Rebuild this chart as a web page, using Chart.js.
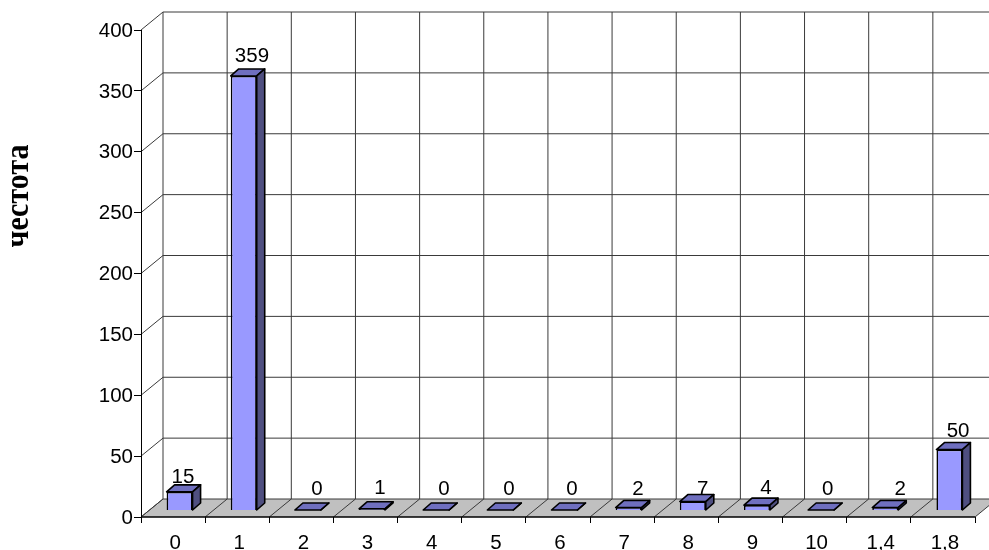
<!DOCTYPE html>
<html>
<head>
<meta charset="utf-8">
<title>частота</title>
<script src="https://cdn.jsdelivr.net/npm/chart.js@4"></script>
<style>
  html, body { margin: 0; padding: 0; background: #fff; }
  canvas { display: block; }
</style>
</head>
<body>
<canvas id="myChart" width="989" height="550"></canvas>
<script>
const categories = ["0", "1", "2", "3", "4", "5", "6", "7", "8", "9", "10", "1,4", "1,8"];
const frequency = [15, 359, 0, 1, 0, 0, 0, 2, 7, 4, 0, 2, 50];
const axisTitle = "честота";

const lineColor = "#3a3a3a";
const labelFont = '20.5px "Liberation Sans", Arial, sans-serif';

// depth of the box: back wall offset and bar offset, in px
const wallDX = 22;
const wallDY = -18;
const barDX = 8;
const barDY = -7;
const barShift = 6.5;

// value labels do not sit evenly above the bars
const labelNudgeX = [3.4, 8.2, 9, 8, 7.8, 8.6, 7.5, 9.3, 10, 9, 6.7, 15, 8.7];
const labelGap = [9, 14, 15, 15, 15, 15, 15, 13, 7, 11, 15, 13, 13];

const box3d = {
  id: "box3d",
  beforeDraw(chart) {
    const ctx = chart.ctx;
    const area = chart.chartArea;
    const y = chart.scales.y;
    const rightEdge = chart.width;
    const back = y.getPixelForValue(0) + wallDY;
    ctx.save();

    // floor
    ctx.fillStyle = "#c0c0c0";
    ctx.beginPath();
    ctx.moveTo(area.left, area.bottom);
    ctx.lineTo(area.right, area.bottom);
    ctx.lineTo(area.right + wallDX, back);
    ctx.lineTo(area.left + wallDX, back);
    ctx.closePath();
    ctx.fill();

    ctx.strokeStyle = lineColor;
    ctx.lineWidth = 1;

    // horizontal lines on the back wall plus the diagonal on the side wall
    y.ticks.forEach((t) => {
      const py = y.getPixelForValue(t.value);
      ctx.beginPath();
      ctx.moveTo(area.left, py);
      ctx.lineTo(area.left + wallDX, py + wallDY);
      ctx.lineTo(rightEdge, py + wallDY);
      ctx.stroke();
    });

    // vertical lines on the back wall, dividers on the floor
    const top = y.getPixelForValue(400) + wallDY;
    for (let i = 0; i <= categories.length; i++) {
      const px = area.left + (i * (area.right - area.left)) / categories.length;
      ctx.beginPath();
      ctx.moveTo(px, area.bottom);
      ctx.lineTo(px + wallDX, back);
      ctx.lineTo(px + wallDX, top);
      ctx.stroke();
    }

    // front edge of the floor
    ctx.strokeStyle = "#000";
    ctx.lineWidth = 1.3;
    ctx.beginPath();
    ctx.moveTo(area.left, area.bottom);
    ctx.lineTo(area.right, area.bottom);
    ctx.stroke();

    // rotated axis title
    ctx.translate(19, 196);
    ctx.rotate(-Math.PI / 2);
    ctx.scale(1, 1.1);
    ctx.fillStyle = "#000";
    ctx.font = 'bold 30px "Liberation Serif", "Times New Roman", serif';
    ctx.textAlign = "center";
    ctx.textBaseline = "middle";
    ctx.fillText(axisTitle, 0, 0);
    ctx.restore();
  },
  beforeDatasetDraw(chart) {
    chart.ctx.save();
    chart.ctx.translate(barShift, 0);
  },
  afterDatasetDraw(chart, args) {
    const ctx = chart.ctx;
    ctx.strokeStyle = "#000";
    ctx.lineWidth = 1.6;
    ctx.lineJoin = "round";
    args.meta.data.forEach((bar, i) => {
      const l = bar.x - bar.width / 2;
      const r = bar.x + bar.width / 2;

      // top face
      ctx.fillStyle = "#6f6fbf";
      ctx.beginPath();
      ctx.moveTo(l, bar.y);
      ctx.lineTo(l + barDX, bar.y + barDY);
      ctx.lineTo(r + barDX, bar.y + barDY);
      ctx.lineTo(r, bar.y);
      ctx.closePath();
      ctx.fill();
      ctx.stroke();

      // side face
      ctx.fillStyle = "#4f4f80";
      ctx.beginPath();
      ctx.moveTo(r, bar.y);
      ctx.lineTo(r + barDX, bar.y + barDY);
      ctx.lineTo(r + barDX, bar.base + barDY);
      ctx.lineTo(r, bar.base);
      ctx.closePath();
      ctx.fill();
      ctx.stroke();

      // value label
      ctx.fillStyle = "#000";
      ctx.font = labelFont;
      ctx.textAlign = "center";
      ctx.textBaseline = "alphabetic";
      ctx.fillText(frequency[i], bar.x + labelNudgeX[i], bar.y - labelGap[i]);
    });
    ctx.restore();
  },
};

new Chart(document.getElementById("myChart"), {
  type: "bar",
  data: {
    labels: categories,
    datasets: [
      {
        data: frequency,
        yAxisID: "yBar",
        backgroundColor: "#9999ff",
        borderColor: "#000",
        borderWidth: 1.6,
        barPercentage: 0.405,
        categoryPercentage: 1,
        clip: false,
      },
    ],
  },
  options: {
    responsive: false,
    animation: false,
    layout: { padding: { top: 30, right: 14 } },
    plugins: { legend: { display: false }, tooltip: { enabled: false } },
    scales: {
      x: {
        afterFit: (scale) => { scale.height = 33; },
        border: { display: false },
        grid: { drawOnChartArea: false, color: "#000", tickLength: 6 },
        ticks: {
          color: "#000",
          font: { family: '"Liberation Sans", Arial, sans-serif', size: 20.5 },
          maxRotation: 0,
          autoSkip: false,
          labelOffset: 2,
          padding: 8,
        },
      },
      y: {
        min: 0,
        max: 400,
        afterFit: (scale) => { scale.width = 141; },
        border: { color: "#000" },
        grid: { drawOnChartArea: false, color: "#000", tickLength: 7 },
        ticks: {
          stepSize: 50,
          color: "#000",
          padding: 1,
          labelOffset: 1,
          font: { family: '"Liberation Sans", Arial, sans-serif', size: 20.5 },
        },
      },
      // bars stand part way back in the box, so they get their own baseline
      yBar: { display: false, min: -5.8, max: 397 },
    },
  },
  plugins: [box3d],
});
</script>
</body>
</html>
